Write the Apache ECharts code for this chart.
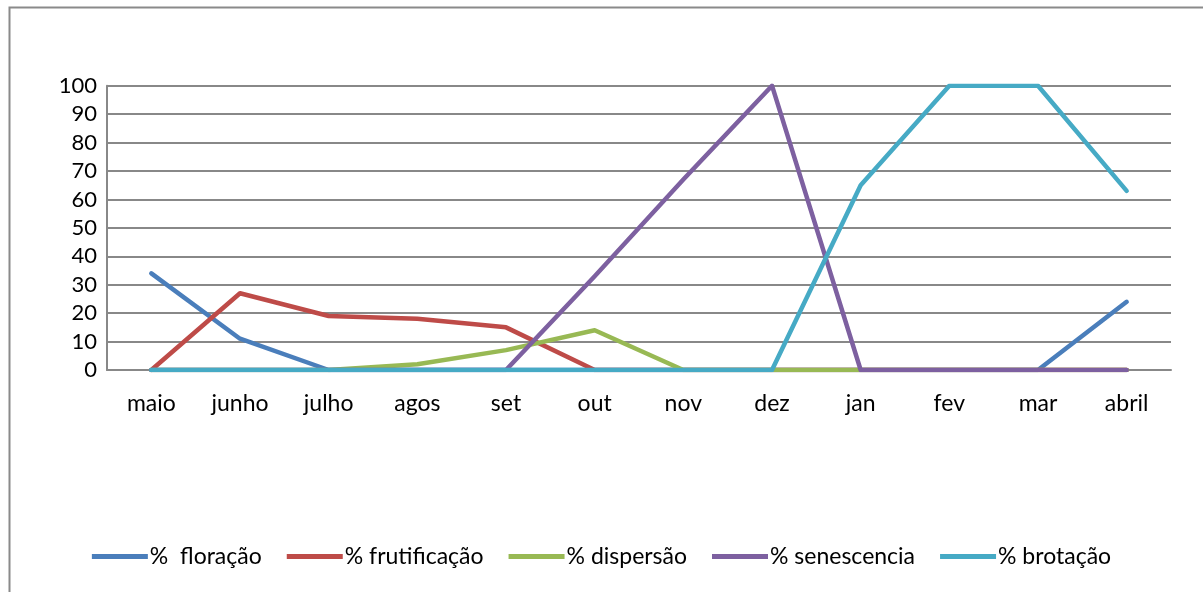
<!DOCTYPE html>
<html>
<head>
<meta charset="utf-8">
<script src="https://cdn.jsdelivr.net/npm/echarts@6/dist/echarts.min.js"></script>
<style>
html,body{margin:0;padding:0;background:#fff;}
#chart{width:1203px;height:592px;}
</style>
</head>
<body>
<div id="chart"></div>
<script>
const categories = ['maio','junho','julho','agos','set','out','nov','dez','jan','fev','mar','abril'];
const floracao     = [34, 11, 0, 0, 0, 0, 0, 0, 0, 0, 0, 24];
const frutificacao = [0, 27, 19, 18, 15, 0, 0, 0, 0, 0, 0, 0];
const dispersao    = [0, 0, 0, 2, 7, 14, 0, 0, 0, 0, 0, 0];
const senescencia  = [0, 0, 0, 0, 0, 33, 67, 100, 0, 0, 0, 0];
const brotacao     = [0, 0, 0, 0, 0, 0, 0, 0, 65, 100, 100, 63];
const seriesNames = ['%  floração','% frutificação','% dispersão','% senescencia','% brotação'];
const colors = ['#4A7EBB','#BE4B48','#98B954','#7D60A0','#46AAC5'];
const yTicks = { min: 0, max: 100, interval: 10 };

const chart = echarts.init(document.getElementById('chart'));
const dataArr = [floracao, frutificacao, dispersao, senescencia, brotacao];
chart.setOption({
  animation: false,
  textStyle: { fontFamily: 'Lato' },
  graphic: [{
    type: 'rect', left: 7, top: 5,
    shape: { width: 1300, height: 700 },
    style: { fill: 'none', stroke: '#8a8a8a', lineWidth: 2 }
  }],
  grid: { left: 107, right: 32, top: 85.7, bottom: 222 },
  xAxis: {
    type: 'category', data: categories, boundaryGap: true,
    axisLine: { show: true, lineStyle: { color: '#888', width: 2 } },
    axisTick: { show: false },
    axisLabel: { color: '#000', fontSize: 23, margin: 22, fontFamily: 'Lato' }
  },
  yAxis: {
    type: 'value', min: yTicks.min, max: yTicks.max, interval: yTicks.interval,
    axisLine: { show: true, lineStyle: { color: '#888', width: 2 } },
    axisTick: { show: false },
    axisLabel: { color: '#000', fontSize: 22, margin: 10, fontFamily: 'Lato' },
    splitLine: { lineStyle: { color: '#888', width: 2 } }
  },
  legend: {
    bottom: 19, left: 'center',
    icon: 'rect', itemWidth: 56, itemHeight: 5, itemGap: 25,
    textStyle: { color: '#000', fontSize: 23, fontFamily: 'Lato', padding: [0,0,0,-3] },
    data: seriesNames
  },
  series: seriesNames.map((n, i) => ({
    name: n, type: 'line', data: dataArr[i],
    showSymbol: false, symbol: 'none',
    lineStyle: { color: colors[i], width: 4.5, cap: 'round', join: 'round' },
    itemStyle: { color: colors[i] }
  }))
});
</script>
</body>
</html>
